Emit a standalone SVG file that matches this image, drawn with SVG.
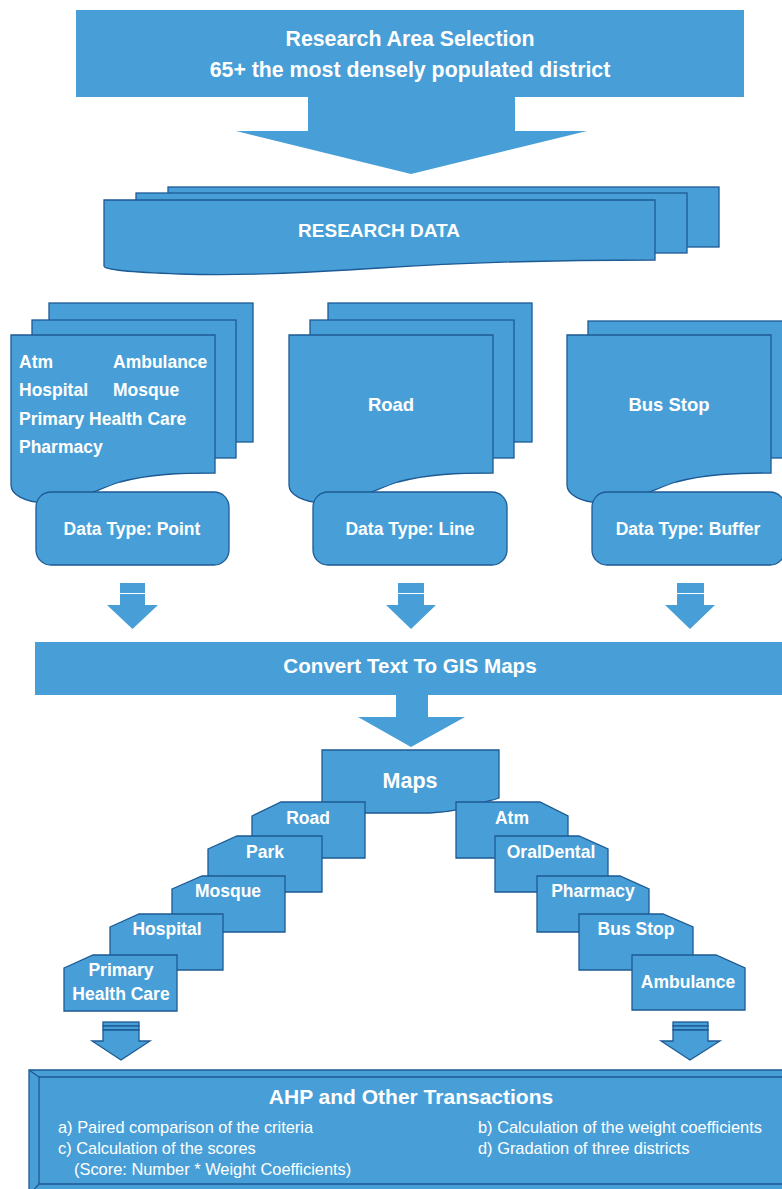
<svg xmlns="http://www.w3.org/2000/svg" width="782" height="1189" viewBox="0 0 782 1189">
<style>
.f{fill:#489fd7}
.s{fill:#489fd7;stroke:#1d5a94;stroke-width:1.3}
.t{font-family:"Liberation Sans",Arial,sans-serif;font-weight:bold;fill:#ffffff}
.c{text-anchor:middle}
.r{font-family:"Liberation Sans",Arial,sans-serif;font-weight:normal;fill:#ffffff;font-size:16.4px}
</style>
<rect width="782" height="1189" fill="#ffffff"/>

<g id="research-area">
<rect class="f" x="76" y="10" width="668" height="87"/>
<text class="t c" x="410" y="46" font-size="21.3">Research Area Selection</text>
<text class="t c" x="410" y="77" font-size="21.3">65+ the most densely populated district</text>
</g>

<g id="research-data">
<rect class="s" x="168" y="187" width="551" height="60"/>
<rect class="s" x="136" y="193" width="551" height="60"/>
<path class="s" d="M104,200 H655 V260 C560,260 470,262 380,268 C300,273 240,276 180,274 C130,272 104,270 104,266 Z"/>
<text class="t c" x="379" y="237" font-size="19">RESEARCH DATA</text>
</g>

<g id="doc-point">
<rect class="s" x="49" y="303" width="204" height="139"/>
<rect class="s" x="32" y="320" width="204" height="138"/>
<path class="s" d="M11,335 H215 V473 C180,473 150,474 120,482 C95,490 75,503 45,503 C25,502 11,495 11,485 Z"/>
<text class="t" x="19" y="368" font-size="17.5">Atm</text>
<text class="t" x="113" y="368" font-size="17.5">Ambulance</text>
<text class="t" x="19" y="396" font-size="17.5">Hospital</text>
<text class="t" x="113" y="396" font-size="17.5">Mosque</text>
<text class="t" x="19" y="425" font-size="17.5">Primary Health Care</text>
<text class="t" x="19" y="453" font-size="17.5">Pharmacy</text>
</g>
<g id="type-point">
<rect class="s" x="36" y="492" width="193" height="73" rx="15"/>
<text class="t c" x="132" y="535" font-size="17.5">Data Type: Point</text>
</g>

<g id="doc-road">
<rect class="s" x="328" y="303" width="204" height="139"/>
<rect class="s" x="310" y="320" width="204" height="138"/>
<path class="s" d="M289,335 H493 V473 C458,473 428,474 398,482 C373,490 353,503 323,503 C303,502 289,495 289,485 Z"/>
<text class="t c" x="391" y="411" font-size="18.5">Road</text>
</g>
<g id="type-line">
<rect class="s" x="313" y="492" width="194" height="73" rx="15"/>
<text class="t c" x="410" y="535" font-size="17.5">Data Type: Line</text>
</g>

<g id="doc-bus">
<rect class="s" x="588" y="321" width="204" height="137"/>
<path class="s" d="M567,335 H771 V473 C736,473 706,474 676,482 C651,490 631,503 601,503 C581,502 567,495 567,485 Z"/>
<text class="t c" x="669" y="411" font-size="18.5">Bus Stop</text>
</g>
<g id="type-buffer">
<rect class="s" x="592" y="492" width="193" height="73" rx="15"/>
<text class="t c" x="688" y="535" font-size="17.5">Data Type: Buffer</text>
</g>

<g id="convert">
<rect class="f" x="35" y="642" width="750" height="53"/>
<text class="t c" x="410" y="673" font-size="20.6">Convert Text To GIS Maps</text>
</g>

<g id="maps">
<path class="s" d="M322,750 H499 V798 Q494,800 488,801 C472,806 458,812 430,813 L322,813 Z"/>
<text class="t c" x="410" y="788" font-size="21.5">Maps</text>
</g>

<g id="map-road">
<path class="s" d="M252,816 L281,802 H365 V858 H252 Z"/>
<text class="t c" x="308" y="824" font-size="17.5">Road</text>
</g>
<g id="map-park">
<path class="s" d="M208,849 L237,836 H322 V892 H208 Z"/>
<text class="t c" x="265" y="858" font-size="17.5">Park</text>
</g>
<g id="map-mosque">
<path class="s" d="M172,889 L202,876 H285 V932 H172 Z"/>
<text class="t c" x="228" y="897" font-size="17.5">Mosque</text>
</g>
<g id="map-hospital">
<path class="s" d="M110,927 L139,914 H223 V970 H110 Z"/>
<text class="t c" x="167" y="935" font-size="17.5">Hospital</text>
</g>
<g id="map-phc">
<path class="s" d="M64,968 L93,955 H177 V1011 H64 Z"/>
<text class="t c" x="121" y="976" font-size="17.5">Primary</text>
<text class="t c" x="121" y="1000" font-size="17.5">Health Care</text>
</g>

<g id="map-atm">
<path class="s" d="M456,802 H540 L568,816 V858 H456 Z"/>
<text class="t c" x="512" y="824" font-size="17.5">Atm</text>
</g>
<g id="map-oraldental">
<path class="s" d="M495,836 H579 L608,849 V892 H495 Z"/>
<text class="t c" x="551" y="858" font-size="17.5">OralDental</text>
</g>
<g id="map-pharmacy">
<path class="s" d="M537,876 H620 L649,889 V932 H537 Z"/>
<text class="t c" x="593" y="897" font-size="17.5">Pharmacy</text>
</g>
<g id="map-busstop">
<path class="s" d="M579,914 H663 L693,927 V970 H579 Z"/>
<text class="t c" x="636" y="935" font-size="17.5">Bus Stop</text>
</g>
<g id="map-ambulance">
<path class="s" d="M632,955 H716 L745,968 V1010 H632 Z"/>
<text class="t c" x="688" y="988" font-size="17.5">Ambulance</text>
</g>

<g id="ahp">
<path class="s" d="M29,1070 H800 V1195 H29 Z"/>
<path class="s" d="M39,1077 H790 V1184 H39 Z"/>
<line x1="29" y1="1070" x2="39" y2="1077" stroke="#1d5a94" stroke-width="1.3"/>
<line x1="29" y1="1195" x2="39" y2="1184" stroke="#1d5a94" stroke-width="1.3"/>
<text class="t c" x="411" y="1104" font-size="21">AHP and Other Transactions</text>
<text class="r" x="58" y="1133">a) Paired comparison of the criteria</text>
<text class="r" x="58" y="1154">c) Calculation of the scores</text>
<text class="r" x="74" y="1175">(Score: Number * Weight Coefficients)</text>
<text class="r" x="478" y="1133">b) Calculation of the weight coefficients</text>
<text class="r" x="478" y="1154">d) Gradation of three districts</text>
</g>

<g id="connectors">
<polygon class="f" points="308,97 515,97 515,131 587,131 411,174 236,131 308,131"/>
<rect class="f" x="120" y="583" width="25" height="10"/>
<polygon class="f" points="120,594 145,594 145,605 158,605 132.5,629 107,605 120,605"/>
<rect class="f" x="398" y="583" width="26" height="10"/>
<polygon class="f" points="398,594 424,594 424,605 436,605 411,629 386,605 398,605"/>
<rect class="f" x="677" y="583" width="27" height="10"/>
<polygon class="f" points="677,594 704,594 704,605 715,605 690,629 665,605 677,605"/>
<polygon class="f" points="396,695 428,695 428,717 465,717 411,747 358,717 396,717"/>
<rect class="s" x="103" y="1022" width="36" height="4"/>
<rect class="s" x="103" y="1026" width="36" height="4"/>
<polygon class="s" points="103,1030 139,1030 139,1041 150,1041 121,1060 92,1041 103,1041"/>
<rect class="s" x="673" y="1022" width="35" height="4"/>
<rect class="s" x="673" y="1026" width="35" height="4"/>
<polygon class="s" points="673,1030 708,1030 708,1041 720,1041 690,1060 661,1041 673,1041"/>
</g>
</svg>
